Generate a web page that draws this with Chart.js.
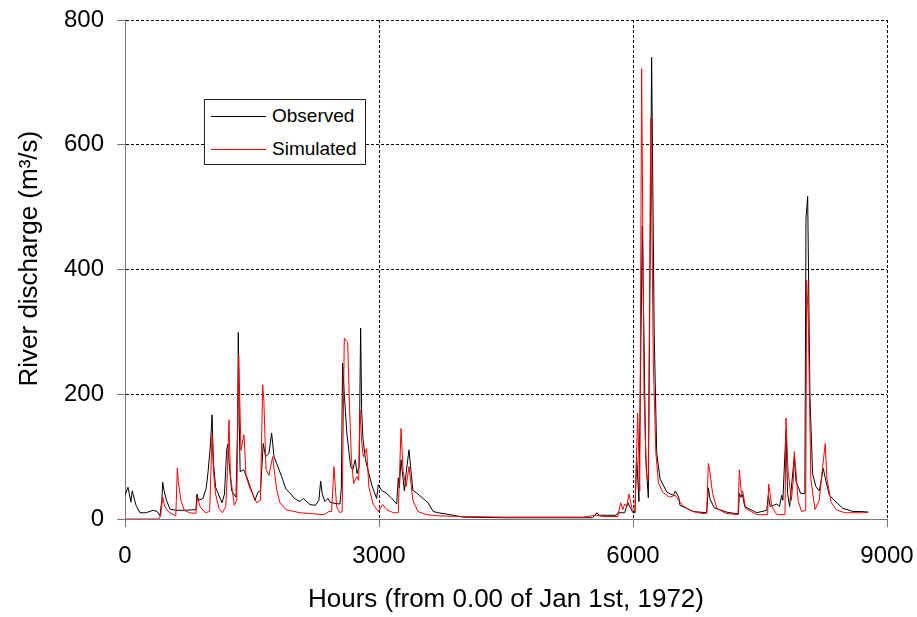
<!DOCTYPE html>
<html>
<head>
<meta charset="utf-8">
<script src="https://cdn.jsdelivr.net/npm/chart.js@4"></script>
<style>
  body { margin: 0; background: #fff; }
  #wrap { position: relative; width: 917px; height: 617px; }
  #legend {
    position: absolute; left: 204px; top: 99px; width: 162px; height: 66px;
    box-sizing: border-box; border: 1px solid #222; background: #fff;
    font-family: "Liberation Sans", Arial, sans-serif; font-size: 19px; color: #000;
  }
  .row { position: absolute; left: 0; height: 20px; line-height: 20px; white-space: nowrap; }
  .row span.ln { position: absolute; left: 6px; top: 10px; width: 55px; height: 1px; }
  .row span.tx { position: absolute; left: 67px; top: 0; }
</style>
</head>
<body>
<div id="wrap">
  <canvas id="chart" width="917" height="617"></canvas>
  <div id="legend">
    <div class="row" style="top:6px"><span class="ln" style="background:#000"></span><span class="tx">Observed</span></div>
    <div class="row" style="top:39px"><span class="ln" style="background:#ff0000"></span><span class="tx">Simulated</span></div>
  </div>
</div>
<script>
// observed discharge (hours, m3/s)
var obsHours = [0,35,70,85,130,177,250,330,380,413,435,445,460,490,531,600,700,838,850,870,920,960,983,1010,1028,1045,1070,1146,1175,1201,1215,1230,1260,1311,1330,1338,1350,1360,1400,1440,1480,1535,1570,1600,1633,1660,1700,1732,1760,1850,1900,1960,2000,2067,2106,2185,2250,2290,2311,2330,2360,2398,2420,2480,2539,2555,2570,2590,2620,2665,2690,2720,2740,2765,2783,2795,2810,2840,2880,2920,2972,2992,3030,3090,3150,3209,3228,3240,3260,3300,3320,3354,3400,3460,3520,3580,3640,3700,3838,3993,4500,5173,5520,5551,5571,5600,5700,5800,5823,5900,5941,5960,6000,6023,6043,6070,6110,6150,6181,6220,6250,6280,6320,6400,6476,6500,6540,6555,6710,6870,6890,6910,6960,7106,7244,7256,7275,7290,7320,7460,7580,7598,7620,7660,7700,7730,7756,7770,7807,7825,7850,7905,7925,7950,7980,8030,8043,8063,8090,8121,8160,8200,8247,8280,8320,8400,8480,8600,8700,8779];
var obsFlow = [38,51,27,45,22,10,10,14,12,5,30,59,46,30,16,14,14,15,40,30,33,50,78,120,167,90,51,26,40,111,120,90,45,35,150,299,150,76,79,67,51,30,43,45,121,100,105,138,100,68,48,40,33,28,33,23,22,30,61,40,28,33,27,25,24,50,250,200,138,84,79,95,73,84,306,175,130,95,73,52,33,55,46,41,33,24,66,50,95,45,73,111,46,40,33,26,12,10,7,3,2,2,2,6,10,6,6,6,10,10,26,20,10,10,100,28,470,100,34,740,300,106,64,43,38,45,35,22,12,10,50,32,18,11,8,41,35,40,20,10,14,38,20,22,24,20,38,30,143,41,20,100,60,52,41,41,482,517,196,73,52,45,81,60,38,27,17,12,12,11];

// simulated discharge
var simHours = [0,400,420,445,470,510,560,600,618,630,660,700,760,838,854,890,950,1000,1028,1045,1070,1110,1150,1190,1210,1228,1245,1290,1320,1343,1370,1405,1430,1480,1555,1600,1626,1640,1665,1700,1744,1790,1830,1900,2067,2350,2410,2440,2468,2500,2540,2565,2590,2630,2650,2675,2700,2740,2760,2775,2795,2815,2854,2880,2930,2992,3043,3090,3170,3228,3260,3285,3320,3354,3400,3460,3560,3700,3993,4500,5400,5571,5650,5820,5854,5880,5900,5925,5953,5985,6023,6055,6080,6102,6130,6160,6180,6210,6240,6270,6300,6350,6430,6500,6550,6600,6710,6800,6870,6890,6905,6940,6990,7100,7240,7256,7280,7295,7330,7460,7590,7602,7640,7700,7795,7807,7830,7870,7895,7905,7920,7950,7990,8040,8051,8070,8100,8150,8200,8240,8271,8290,8340,8400,8500,8700,8779];
var simFlow = [0,0,5,35,20,12,8,5,82,60,30,14,10,9,34,19,10,12,135,76,40,17,10,20,76,159,70,22,30,263,110,135,68,48,26,30,215,190,80,70,100,48,26,15,10,7,12,12,84,19,10,12,290,283,187,95,57,68,62,175,124,100,113,52,24,12,23,15,10,10,145,76,52,84,30,12,7,5,4,3,3,6,4,4,26,15,24,20,40,18,10,170,45,722,200,68,61,642,250,106,58,43,35,38,28,20,12,9,9,89,79,41,17,9,7,79,41,45,17,7,7,56,20,7,7,162,79,30,65,108,84,30,12,14,383,320,65,15,30,84,121,65,27,15,10,10,11];

var xTicks = [0, 3000, 6000, 9000];
var yTicks = [0, 200, 400, 600, 800];

function pts(xs, ys) {
  var out = [];
  for (var i = 0; i < xs.length; i++) out.push({x: xs[i], y: ys[i]});
  return out;
}

// keep the plot box where the original has it (125..887, 20..519)
function noPad(s) {
  s.paddingTop = 0; s.paddingBottom = 0; s.paddingLeft = 0; s.paddingRight = 0;
}

var fam = '"Liberation Sans", Arial, sans-serif';

new Chart(document.getElementById('chart'), {
  type: 'line',
  data: {
    datasets: [
      { label: 'Simulated', data: pts(simHours, simFlow), borderColor: '#ff0000', borderWidth: 1, pointRadius: 0, tension: 0, fill: false },
      { label: 'Observed', data: pts(obsHours, obsFlow), borderColor: '#000000', borderWidth: 1, pointRadius: 0, tension: 0, fill: false }
    ]
  },
  options: {
    responsive: false,
    animation: false,
    devicePixelRatio: 1,
    layout: { padding: { left: 0, right: 30, top: 20, bottom: 0 } },
    plugins: { legend: { display: false }, tooltip: { enabled: false } },
    scales: {
      x: {
        type: 'linear', min: 0, max: 9000,
        afterFit: function(s) { s.height = 98; noPad(s); },
        afterBuildTicks: function(s) { s.ticks = xTicks.map(function(v) { return {value: v}; }); },
        grid: { color: '#000', lineWidth: 1, tickLength: 8, tickColor: '#777', tickBorderDash: [] },
        border: { display: true, color: '#777', width: 1, dash: [3, 2] },
        ticks: { color: '#000', font: { family: fam, size: 24 }, padding: 15, maxRotation: 0,
                 callback: function(v) { return String(v); } },
        title: { display: true, text: 'Hours (from 0.00 of Jan 1st, 1972)', color: '#000', font: { family: fam, size: 26 }, padding: { top: 0, bottom: 2 } }
      },
      y: {
        min: 0, max: 800,
        afterFit: function(s) { s.width = 125; noPad(s); },
        afterBuildTicks: function(s) { s.ticks = yTicks.map(function(v) { return {value: v}; }); },
        grid: { color: '#000', lineWidth: 1, tickLength: 8, tickColor: '#777', tickBorderDash: [] },
        border: { display: true, color: '#777', width: 1, dash: [3, 2] },
        ticks: { color: '#000', font: { family: fam, size: 24 }, padding: 13,
                 callback: function(v) { return String(v); } },
        title: { display: true, text: '   River discharge (m\u00b3/s)', color: '#000', font: { family: fam, size: 26 }, padding: { top: 14, bottom: 0 } }
      }
    }
  }
});
</script>
</body>
</html>
